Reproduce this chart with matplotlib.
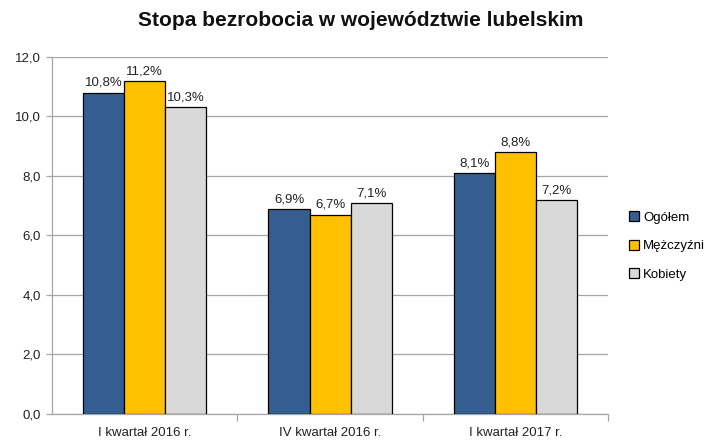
import matplotlib.pyplot as plt
import numpy as np

# dane
kwartaly = ['I kwartał 2016 r.', 'IV kwartał 2016 r.', 'I kwartał 2017 r.']
ogolem = [10.8, 6.9, 8.1]
mezczyzni = [11.2, 6.7, 8.8]
kobiety = [10.3, 7.1, 7.2]
serie = ['Ogółem', 'Mężczyźni', 'Kobiety']
kolory = ['#345E90', '#FFC000', '#D9D9D9']

plt.rcParams['font.family'] = ['Liberation Sans', 'DejaVu Sans']

fig = plt.figure(figsize=(7.08, 4.41), dpi=100)
ax = fig.add_axes([0.0734, 0.0612, 0.786, 0.81])

x = np.arange(len(kwartaly))
w = 0.222
for i, (vals, name, col) in enumerate(zip([ogolem, mezczyzni, kobiety], serie, kolory)):
    pos = x + (i - 1) * w
    bars = ax.bar(pos, vals, width=w, color=col, edgecolor='black', linewidth=0.9,
                  label=name, zorder=3)
    for p, v in zip(pos, vals):
        ax.text(p, v + 0.12, f'{v:.1f}%'.replace('.', ','), ha='center', va='bottom',
                fontsize=9.5, color='#222222')

ax.set_xlim(-0.5, 2.5)
ax.set_ylim(0, 12)
ax.set_yticks(np.arange(0, 12.1, 2))
ax.set_yticklabels([f'{t:.1f}'.replace('.', ',') for t in np.arange(0, 12.1, 2)],
                   fontsize=9.5, color='#222222')
ax.grid(axis='y', color='#A6A6A6', linewidth=0.9, zorder=0)

# etykiety kategorii i znaczniki na granicach
ax.set_xticks(x)
ax.set_xticklabels(kwartaly, fontsize=9.5, color='#222222')
ax.tick_params(axis='x', length=0, pad=9)
ax.set_xticks([0.5, 1.5, 2.5], minor=True)
ax.tick_params(axis='x', which='minor', length=5, color='#A6A6A6', width=0.9)
ax.tick_params(axis='y', length=4, color='#A6A6A6', width=0.9, pad=4)

for s in ['top', 'right']:
    ax.spines[s].set_visible(False)
for s in ['left', 'bottom']:
    ax.spines[s].set_color('#A6A6A6')
    ax.spines[s].set_linewidth(0.9)

fig.suptitle('Stopa bezrobocia w województwie lubelskim', x=0.51, y=0.975,
             fontsize=15, fontweight='bold', color='#111111')

leg = ax.legend(loc='center left', bbox_to_anchor=(1.015, 0.47), frameon=False,
                fontsize=9.5, handlelength=0.8, handleheight=0.8, labelspacing=1.2,
                handletextpad=0.3)

fig.savefig('out.png', dpi=100)
